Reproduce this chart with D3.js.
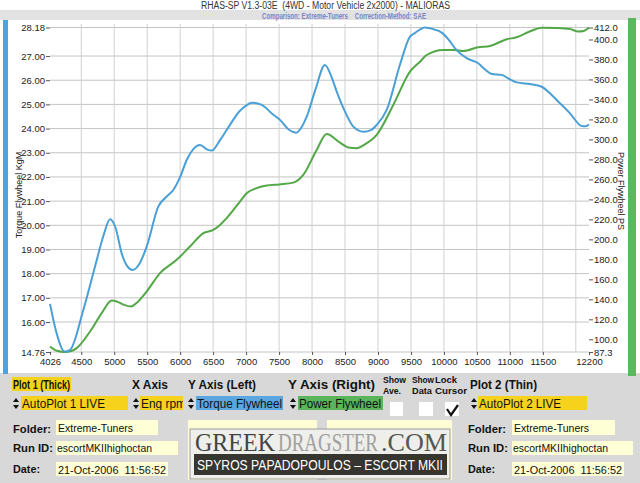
<!DOCTYPE html>
<html><head><meta charset="utf-8">
<script src="https://cdn.jsdelivr.net/npm/d3@7"></script>
<style>
html,body{margin:0;padding:0;background:#fff;}
svg{display:block;font-family:'Liberation Sans',Arial,sans-serif;}
</style></head>
<body>
<svg id="c" width="640" height="483"></svg>
<script>
// ---------- DATA ----------
const title = "RHAS-SP V1.3-03E  (4WD - Motor Vehicle 2x2000) - MALIORAS";
const subtitle = "Comparison: Extreme-Tuners    Correction-Method: SAE";
const xTicks = [4026,4500,5000,5500,6000,6500,7000,7500,8000,8500,9000,9500,10000,10500,11000,11500,12200];
const xGrid = [4500,5000,5500,6000,6500,7000,7500,8000,8500,9000,9500,10000,10500,11000,11500,12000];
const leftTicks = [28.18,27,26,25,24,23,22,21,20,19,18,17,16,14.76];
const rightTicks = [412,400,380,360,340,320,300,280,260,240,220,200,180,160,140,120,100,87.3];
const torqueRpm = [4026,4120,4250,4330,4531,4708,4840,4936,5020,5113,5200,5280,5380,5492,5668,5800,5896,6000,6099,6200,6300,6420,6478,6600,6705,6907,7000,7085,7236,7400,7514,7650,7757,7850,7919,8050,8196,8300,8374,8500,8626,8778,8900,8980,9132,9334,9485,9560,9713,9850,9966,10080,10168,10345,10521,10620,10724,10876,10990,11104,11305,11483,11600,11710,11912,12089,12150,12200];
const torqueKgm = [16.75,15.6,14.78,14.85,16.5,18.29,19.6,20.25,19.9,18.84,18.3,18.15,18.4,19.12,20.77,21.2,21.46,22.0,22.7,23.15,23.32,23.12,23.09,23.5,23.94,24.74,24.95,25.07,24.98,24.6,24.36,23.95,23.83,24.1,24.49,25.6,26.63,26.1,25.53,24.7,24.08,23.87,23.95,24.15,24.77,26.65,27.8,27.95,28.18,28.1,27.97,27.65,27.32,26.91,26.7,26.45,26.26,26.22,26.05,25.91,25.84,25.73,25.48,25.18,24.63,24.11,24.1,24.17];
const powerRpm = [4026,4130,4250,4350,4430,4633,4810,4962,5050,5150,5250,5350,5492,5694,5947,6149,6351,6502,6604,6705,6907,7009,7150,7312,7500,7716,7867,8070,8222,8424,8550,8677,8800,8980,9232,9485,9637,9738,9990,10150,10294,10521,10699,10951,11104,11300,11483,11710,11912,12038,12120,12200];
const powerPs = [92.8,88.5,87.3,88.3,91.2,107.8,126.2,138.8,137.5,134.5,132.8,137,147.8,166.2,179.5,192.8,206.2,209.5,214.5,221.2,237.8,246.2,251,253.8,255,256.8,264.5,289.5,305.5,296.8,292,291.2,295,304.5,334.5,367.8,377.8,384.5,389.5,389.5,388.5,392.2,393.5,400.2,402.2,408,411.8,411.5,410.5,408,408.5,412];
const leftLabel = "Torque Flywheel KgM";
const rightLabel = "Power Flywheel PS";

// ---------- DRAW ----------
const svg = d3.select("#c");
const font = "'Liberation Sans', Arial, sans-serif";

svg.append("rect").attr("x",0).attr("y",0).attr("width",640).attr("height",483).attr("fill","#fff");
svg.append("rect").attr("x",0).attr("y",10).attr("width",640).attr("height",10).attr("fill","#e2e2e2");
svg.append("rect").attr("x",0).attr("y",373).attr("width",640).attr("height",110).attr("fill","#d8d8d8");
svg.append("rect").attr("x",3).attr("y",20).attr("width",5).attr("height",354).attr("fill","#4da3df");
svg.append("rect").attr("x",628).attr("y",18).attr("width",8).attr("height",358).attr("fill","#5cb85c");

svg.append("text").attr("x",201).attr("y",8.5).attr("font-family",font)
  .attr("font-size",10).attr("fill","#333").attr("textLength",249).attr("lengthAdjust","spacingAndGlyphs")
  .attr("xml:space","preserve").text(title);
svg.append("text").attr("x",262).attr("y",18.5).attr("font-family",font)
  .attr("font-size",8.5).attr("font-weight","bold").attr("fill","#7585c8").attr("textLength",164).attr("lengthAdjust","spacingAndGlyphs")
  .attr("xml:space","preserve").text(subtitle);

const x = d3.scaleLinear().domain([4026,12200]).range([50,589]);
const yL = d3.scaleLinear().domain([14.76,28.18]).range([352,27.5]);
const yR = d3.scaleLinear().domain([87.3,412]).range([352,27.5]);

const g = svg.append("g");
g.selectAll(".hg").data(leftTicks).join("line")
  .attr("x1",50).attr("x2",589).attr("y1",d=>yL(d)).attr("y2",d=>yL(d))
  .attr("stroke","#c4c4c4").attr("stroke-width",1);
g.selectAll(".vg").data(xGrid).join("line")
  .attr("x1",d=>x(d)).attr("x2",d=>x(d)).attr("y1",24).attr("y2",352)
  .attr("stroke","#d0d0d0").attr("stroke-width",1);

const axL = svg.append("g").attr("transform","translate(50,0)")
  .call(d3.axisLeft(yL).tickValues(leftTicks).tickFormat(d3.format(".2f")).tickSize(4).tickPadding(1));
const axR = svg.append("g").attr("transform","translate(589,0)")
  .call(d3.axisRight(yR).tickValues(rightTicks).tickFormat(d3.format(".1f")).tickSize(4).tickPadding(1));
const axB = svg.append("g").attr("transform","translate(0,352)")
  .call(d3.axisBottom(x).tickValues(xTicks).tickFormat(d3.format("d")).tickSize(3).tickPadding(3));
[axL,axR,axB].forEach(a=>{
  a.select(".domain").remove();
  a.attr("font-family",font);
  a.selectAll("text").attr("font-size",9.5).attr("fill","#222").attr("font-family",font);
  a.selectAll("line").attr("stroke","#555");
});

svg.append("text").attr("transform","translate(22,195) rotate(-90)").attr("text-anchor","middle")
  .attr("font-family",font).attr("font-size",9).attr("fill","#222").text(leftLabel);
svg.append("text").attr("transform","translate(618,191) rotate(90)").attr("text-anchor","middle")
  .attr("font-family",font).attr("font-size",9).attr("fill","#222").text(rightLabel);

const lineT = d3.line().x((d,i)=>x(torqueRpm[i])).y(d=>yL(d)).curve(d3.curveMonotoneX);
const lineP = d3.line().x((d,i)=>x(powerRpm[i])).y(d=>yR(d)).curve(d3.curveMonotoneX);
svg.append("path").datum(powerPs).attr("d",lineP).attr("fill","none").attr("stroke","#52a847").attr("stroke-width",2);
svg.append("path").datum(torqueKgm).attr("d",lineT).attr("fill","none").attr("stroke","#4aa0d6").attr("stroke-width",2);

// ---------- BOTTOM PANEL ----------
const bp = svg.append("g").attr("font-family",font);
function txt(xp,yp,s,size,bold,w,fill){
  const t = bp.append("text").attr("x",xp).attr("y",yp).attr("font-size",size).attr("font-family",font)
   .attr("font-weight",bold?"bold":"normal").attr("fill",fill||"#111").attr("xml:space","preserve").text(s);
  if(w) t.attr("textLength",w).attr("lengthAdjust","spacingAndGlyphs");
  return t;
}
function box(xp,yp,w,h,fill,stroke){
  return bp.append("rect").attr("x",xp).attr("y",yp).attr("width",w).attr("height",h).attr("fill",fill).attr("stroke",stroke||"none");
}
function arrows(xp,yp){
  bp.append("path").attr("d",`M${xp},${yp+5}L${xp+3},${yp+1}L${xp+6},${yp+5}Z M${xp},${yp+8}L${xp+3},${yp+12}L${xp+6},${yp+8}Z`).attr("fill","#111");
}
box(12,377,59,14,"#f6d21c");
txt(13,388.5,"Plot 1 (Thick)",12.5,true,57);
txt(132,388.5,"X Axis",12.5,true,36);
txt(188,388.5,"Y Axis (Left)",12.5,true,68);
txt(288,388.5,"Y Axis (Right)",12.5,true,87);
txt(383,383,"Show",8.5,true,23); txt(383,394,"Ave.",8.5,true,18);
txt(412,383,"Show",8.5,true,22); txt(412,394,"Data",8.5,true,20);
txt(435,383,"Lock",8.5,true,22); txt(435,394,"Cursor",8.5,true,32);
txt(470,388.5,"Plot 2 (Thin)",12.5,true,67);

box(21,396,107,14,"#f6d21c"); arrows(13,397); txt(22,407.5,"AutoPlot 1 LIVE",12.5,false,83);
box(140,396,43,14,"#f6d21c"); arrows(133,397);
bp.append("clipPath").attr("id","clipEng").append("rect").attr("x",140).attr("y",396).attr("width",43).attr("height",14);
txt(141,407.5,"Eng rpm",12.5,false,45).attr("clip-path","url(#clipEng)");
box(196,396,87,14,"#5aa6e0"); arrows(188,397); txt(197,407.5,"Torque Flywheel",12.5,false,85);
box(298,396,85,14,"#5bb45a"); arrows(290,397); txt(299,407.5,"Power Flywheel",12.5,false,82);
box(390,402,13,14,"#fff"); box(419,402,14,14,"#fff"); box(445,402,14,14,"#fff");
bp.append("path").attr("d","M447,409 L451,415 L458,405").attr("fill","none").attr("stroke","#111").attr("stroke-width",2.2);
box(478,396,109,14,"#f6d21c"); arrows(471,397); txt(479,407.5,"AutoPlot 2 LIVE",12.5,false,82);

const folder = "Extreme-Tuners", runId = "escortMKIIhighoctan", date = "21-Oct-2006  11:56:52";
[[13,56,158,178,168],[468,512,615,633,624]].forEach(([lx,bx,e1,e2,e3])=>{
  txt(lx,432.5,"Folder:",11,true,38); box(bx,420,e1-bx,15,"#ffffd6"); txt(bx+2,431.5,folder,11,false,75);
  txt(lx,452,"Run ID:",11,true,40); box(bx,441,e2-bx,14,"#ffffd6"); txt(bx+1,452,runId,11,false,95);
  txt(lx,473,"Date:",10.5,true,27); box(bx,462,e3-bx,14,"#ffffd6"); txt(bx+2,473.5,date,11,false,108);
});

// logo
box(188,420,129,60,"#ffffd6"); box(327,420,125,60,"#ffffd6");
box(190,429,260,50,"#eeeeea","#9a9a9a");
const serif = "'Liberation Serif', 'DejaVu Serif', serif";
[["GREEK",195,80,"#444"],["DRAGSTER",278,100,"#a0a0a0"],[".COM",381,66,"#555"]].forEach(([s,lx,w,c])=>{
  bp.append("text").attr("x",lx).attr("y",451).attr("font-family",serif).attr("font-size",25).attr("fill",c)
    .attr("textLength",w).attr("lengthAdjust","spacingAndGlyphs").text(s);
});
box(194,454,253,21,"#363530");
bp.append("text").attr("x",197).attr("y",470).attr("font-family",font).attr("font-size",15.5).attr("fill","#fff")
  .attr("textLength",246).attr("lengthAdjust","spacingAndGlyphs").text("SPYROS PAPADOPOULOS – ESCORT MKII");
</script>
</body></html>
